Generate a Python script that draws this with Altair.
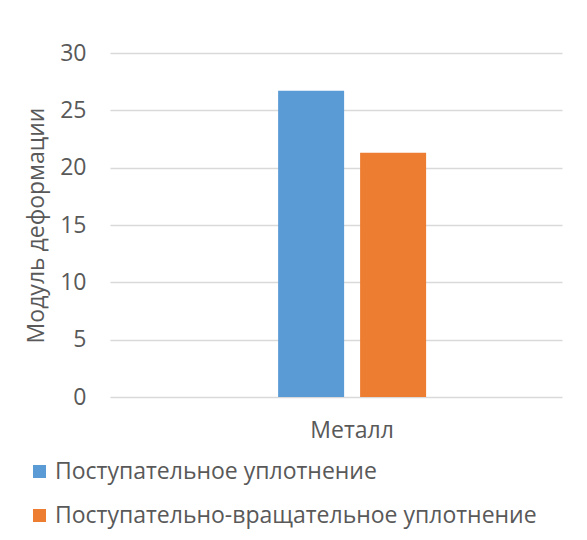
import altair as alt
import pandas as pd

categories = ["Металл"]
series = ["Поступательное уплотнение", "Поступательно-вращательное уплотнение"]
values = [26.7, 21.3]
colors = ["#5b9bd5", "#ed7d31"]
y_ticks = [0, 5, 10, 15, 20, 25, 30]

df = pd.DataFrame({
    "cat": [categories[0]] * len(series),
    "series": series,
    "value": values,
})

FONT = "Open Sans"
TXT = "#595959"
FS = 23

chart = alt.Chart(df).mark_bar().encode(
    x=alt.X("cat:N", title=None,
            scale=alt.Scale(paddingInner=0.0263, paddingOuter=1, align=0.553),
            axis=alt.Axis(labelAngle=0, domain=False, ticks=False, grid=False,
                          labelFontSize=FS, labelColor=TXT, labelFont=FONT,
                          labelPadding=22)),
    xOffset=alt.XOffset("series:N", sort=series,
                        scale=alt.Scale(paddingInner=0.195, paddingOuter=0)),
    y=alt.Y("value:Q", title="Модуль деформации",
            scale=alt.Scale(domain=[0, 30], nice=False),
            axis=alt.Axis(values=y_ticks, domain=False, ticks=False,
                          grid=True, gridColor="#d9d9d9", gridWidth=1.3,
                          labelFontSize=FS, labelColor=TXT, labelFont=FONT,
                          labelPadding=24,
                          titleFontSize=FS, titleColor=TXT, titleFont=FONT,
                          titleFontWeight="normal", titleX=-74, titleY=172,
                          titleAngle=-90, titleAlign="center",
                          titleBaseline="middle")),
    color=alt.Color("series:N", sort=series,
                    scale=alt.Scale(domain=series, range=colors),
                    legend=alt.Legend(title=None, orient="none",
                                      legendX=-82, legendY=407,
                                      direction="vertical",
                                      symbolType="square", symbolSize=169,
                                      symbolStrokeWidth=0,
                                      labelFontSize=FS, labelColor=TXT,
                                      labelFont=FONT, labelOffset=4,
                                      labelLimit=600, rowPadding=20)),
).properties(
    width=452, height=344,
    background="white",
    autosize=alt.AutoSizeParams(type="none"),
    padding={"left": 102, "top": 45, "right": 17, "bottom": 135},
).configure_view(stroke=None)

chart.save("out.html", embed_options={"renderer": "svg", "actions": False})
